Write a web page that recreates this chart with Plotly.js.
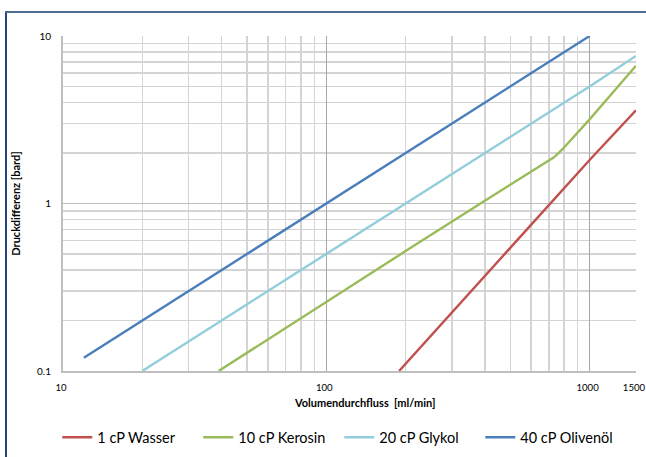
<!DOCTYPE html>
<html>
<head>
<meta charset="utf-8">
<script src="https://cdn.plot.ly/plotly-3.0.1.min.js"></script>
<style>
  html, body { margin: 0; padding: 0; background: #ffffff; }
  #wrap { position: relative; width: 646px; height: 457px; overflow: hidden; }
  #chart { position: absolute; left: 0; top: 0; width: 646px; height: 457px; }
  #frameL { position: absolute; left: 5px; top: 11px; width: 2px; height: 460px; background: #24427f; pointer-events: none; }
  #frameT { position: absolute; left: 5px; top: 11px; width: 660px; height: 2px; background: #4d6c93; pointer-events: none; }
</style>
</head>
<body>
<div id="wrap">
  <div id="chart"></div>
  <div id="frameL"></div>
  <div id="frameT"></div>
</div>
<script>
// Series data (flow in ml/min, pressure difference in bard)
const seriesNames = ["1 cP Wasser", "10 cP Kerosin", "20 cP Glykol", "40 cP Olivenöl"];

const wasserX = [189, 400, 700, 1000, 1500];
const wasserY = [0.1, 0.37, 0.98, 1.82, 3.6];

const kerosinX = [39, 100, 200, 400, 700, 730, 760, 800, 1000, 1500];
const kerosinY = [0.1, 0.26, 0.52, 1.04, 1.8, 1.88, 1.99, 2.16, 3.18, 6.65];

const glykolX = [20, 100, 500, 1000, 1500];
const glykolY = [0.1, 0.5, 2.5, 5.0, 7.6];

const olivenoelX = [12, 100, 500, 1000];
const olivenoelY = [0.12, 1.0, 5.0, 10.0];

const xTickVals = [10, 100, 1000, 1500];
const xTickText = ["10", "100", "1000", "1500"];
const yTickVals = [0.1, 1, 10];
const yTickText = ["0.1", "1", "10"];

const xTitle = "Volumendurchfluss  [ml/min]";
const yTitle = "Druckdifferenz [bard]";

const colors = ["#c0504d", "#9bbb59", "#92cddc", "#4a7ebb"];

// minor gridline values (digits 2..9 of each decade)
function decadeMinors(decades) {
  const out = [];
  decades.forEach(d => { for (let k = 2; k <= 9; k++) out.push(+(k * d).toPrecision(3)); });
  return out;
}
const xMinor = decadeMinors([10, 100, 1000]).filter(v => v <= 1500);
const yMinor = decadeMinors([0.1, 1]);

const xs = [wasserX, kerosinX, glykolX, olivenoelX];
const ys = [wasserY, kerosinY, glykolY, olivenoelY];

const traces = seriesNames.map((n, i) => ({
  type: "scatter",
  mode: "lines",
  name: n,
  x: xs[i],
  y: ys[i],
  line: { color: colors[i], width: 2.4 }
}));

const font = "Lato, 'Noto Sans', sans-serif";

const layout = {
  width: 646,
  height: 457,
  margin: { l: 63, r: 10, t: 36, b: 86, autoexpand: false },
  paper_bgcolor: "#ffffff",
  plot_bgcolor: "#ffffff",
  font: { family: font, size: 10, color: "#000000" },
  showlegend: true,
  legend: {
    orientation: "h",
    x: -0.01,
    xanchor: "left",
    y: -0.15,
    yanchor: "top",
    font: { family: font, size: 14.5, color: "#000000" },
    traceorder: "normal",
    itemwidth: 30,
    entrywidth: 96,
    entrywidthmode: "pixels"
  },
  annotations: [{
    text: "<b>" + xTitle + "</b>",
    xref: "paper", yref: "paper",
    x: 0.527, y: -0.0955,
    xanchor: "center", yanchor: "middle",
    showarrow: false,
    font: { family: font, size: 11, color: "#000000" }
  }],
  xaxis: {
    type: "log",
    range: [1, Math.log10(1500.5)],
    tickmode: "array",
    tickvals: xTickVals,
    ticktext: xTickText,
    ticks: "",
    ticklabelstandoff: 6,
    ticklabelshift: -2,
    ticklabeloverflow: "allow",
    showline: true,
    linecolor: "#bfbfbf",
    linewidth: 2,
    showgrid: true,
    gridcolor: "#a6a6a6",
    gridwidth: 1,
    zeroline: false,
    tickfont: { family: font, size: 9.6, color: "#000000" },
    minor: { tickmode: "array", tickvals: xMinor, showgrid: true, gridcolor: "#d4d4d4", gridwidth: 1.5, ticks: "" },
    automargin: false
  },
  yaxis: {
    type: "log",
    range: [-1, 1],
    tickmode: "array",
    tickvals: yTickVals,
    ticktext: yTickText,
    ticks: "",
    ticklabelstandoff: 8,
    showline: true,
    linecolor: "#bfbfbf",
    linewidth: 2,
    showgrid: true,
    gridcolor: "#bfbfbf",
    gridwidth: 1.5,
    zeroline: false,
    tickfont: { family: font, size: 10, color: "#000000" },
    minor: { tickmode: "array", tickvals: yMinor, showgrid: true, gridcolor: "#d4d4d4", gridwidth: 1.5, ticks: "" },
    title: { text: "<b>" + yTitle + "</b>", font: { family: font, size: 11, color: "#000000" }, standoff: 14 },
    automargin: false
  }
};

Plotly.newPlot("chart", traces, layout, { staticPlot: true, displayModeBar: false });
</script>
</body>
</html>
